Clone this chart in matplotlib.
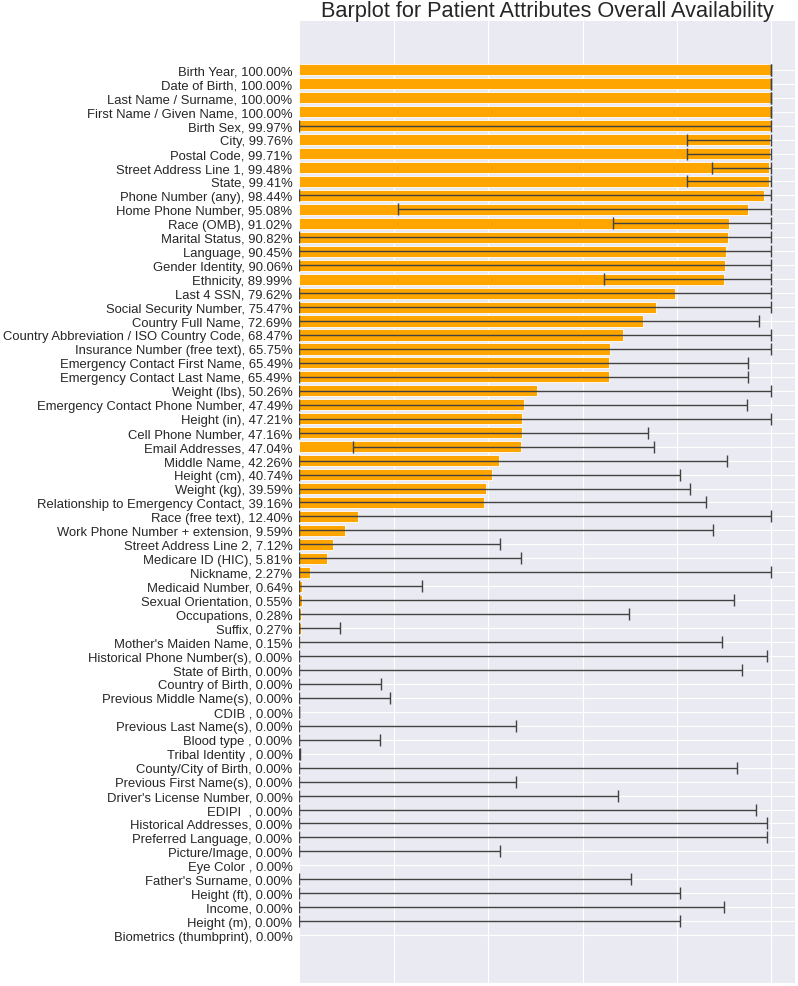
import matplotlib
matplotlib.use("Agg")
import matplotlib.pyplot as plt
import numpy as np
import seaborn as sns

# attribute names (some carry trailing spaces in the source data)
attributes = [
    "Birth Year", "Date of Birth", "Last Name / Surname", "First Name / Given Name",
    "Birth Sex", "City", "Postal Code", "Street Address Line 1", "State",
    "Phone Number (any)", "Home Phone Number", "Race (OMB)", "Marital Status",
    "Language", "Gender Identity", "Ethnicity", "Last 4 SSN",
    "Social Security Number", "Country Full Name",
    "Country Abbreviation / ISO Country Code", "Insurance Number (free text)",
    "Emergency Contact First Name", "Emergency Contact Last Name", "Weight (lbs)",
    "Emergency Contact Phone Number", "Height (in)", "Cell Phone Number",
    "Email Addresses", "Middle Name", "Height (cm)", "Weight (kg)",
    "Relationship to Emergency Contact", "Race (free text)",
    "Work Phone Number + extension", "Street Address Line 2", "Medicare ID (HIC)",
    "Nickname", "Medicaid Number", "Sexual Orientation", "Occupations", "Suffix",
    "Mother's Maiden Name", "Historical Phone Number(s)", "State of Birth",
    "Country of Birth", "Previous Middle Name(s)", "CDIB ", "Previous Last Name(s)",
    "Blood type ", "Tribal Identity ", "County/City of Birth",
    "Previous First Name(s)", "Driver's License Number", "EDIPI  ",
    "Historical Addresses", "Preferred Language", "Picture/Image", "Eye Color ",
    "Father's Surname", "Height (ft)", "Income", "Height (m)",
    "Biometrics (thumbprint)",
]

availability = [
    1.0, 1.0, 1.0, 1.0, 0.9997, 0.9976, 0.9971, 0.9948, 0.9941, 0.9844, 0.9508,
    0.9102, 0.9082, 0.9045, 0.9006, 0.8999, 0.7962, 0.7547, 0.7269, 0.6847,
    0.6575, 0.6549, 0.6549, 0.5026, 0.4749, 0.4721, 0.4716, 0.4704, 0.4226,
    0.4074, 0.3959, 0.3916, 0.1240, 0.0959, 0.0712, 0.0581, 0.0227, 0.0064,
    0.0055, 0.0028, 0.0027, 0.0015, 0, 0, 0, 0, 0, 0, 0, 0, 0, 0, 0, 0, 0, 0,
    0, 0, 0, 0, 0, 0, 0,
]

# confidence interval ends (nan = no bar drawn)
ci_low = [
    1.0, 1.0, 1.0, 1.0, 0.0, 0.822, 0.822, 0.874, 0.822, 0.0, 0.2095,
    0.665, 0.0, 0.0, 0.0, 0.646, 0.0, 0.0, 0.0, 0.0,
    0.0, 0.0, 0.0, 0.0, 0.0, 0.0, 0.0, 0.114, 0.0,
    0.0, 0.0, 0.0, 0.0, 0.0, 0.0, 0.0, 0.0, 0.0,
    0.0, 0.0, 0.0, 0.0, 0, 0, 0, 0, 0, 0, 0, 0, 0, 0, 0, 0, 0, 0,
    0, np.nan, 0, 0, 0, 0, np.nan,
]
ci_high = [
    1.0, 1.0, 1.0, 1.0, 1.0, 1.0, 1.0, 1.0, 1.0, 1.0, 1.0,
    1.0, 1.0, 1.0, 1.0, 1.0, 1.0, 1.0, 0.9746, 1.0,
    1.0, 0.951, 0.951, 1.0, 0.949, 1.0, 0.739, 0.752, 0.905,
    0.807, 0.828, 0.861, 1.0, 0.876, 0.425, 0.469, 1.0, 0.260,
    0.9216, 0.699, 0.0865, 0.896, 0.990, 0.937, 0.173, 0.1925, 0.0, 0.4596,
    0.171, 0.001, 0.926, 0.4596, 0.675, 0.968, 0.990, 0.990,
    0.4257, np.nan, 0.7026, 0.807, 0.900, 0.807, np.nan,
]

labels = ["{}, {:.2%}".format(a, v) for a, v in zip(attributes, availability)]

sns.set_style("darkgrid")
plt.rcParams["font.family"] = ["Liberation Sans", "DejaVu Sans"]

fig = plt.figure(figsize=(7.98, 9.87), dpi=100)
ax = fig.add_axes([0.3751, 0.00274, 0.6212, 0.9750])

vals = np.array(availability)
lo = np.array(ci_low)
hi = np.array(ci_high)
y = np.arange(len(vals))

ax.barh(y, vals, height=0.8, color="orange", edgecolor="white", linewidth=0.6, zorder=2)
ax.errorbar(vals, y, xerr=[vals - lo, hi - vals], fmt="none", ecolor="#424242",
            elinewidth=1.0, capsize=4.3, capthick=1.0, zorder=3)

ax.set_xlim(0, 1.05)
ax.set_ylim(len(vals) - 1 + 3.45, -3.5)
ax.set_xticks([0, 0.2, 0.4, 0.6, 0.8, 1.0])
ax.set_xticklabels([])
ax.set_yticks(y)
ax.set_yticklabels(labels, fontsize=9.4, color="#262626")
ax.tick_params(axis="y", length=0, pad=5)
ax.tick_params(axis="x", length=0)
for s in ax.spines.values():
    s.set_visible(False)

ax.set_title("Barplot for Patient Attributes Overall Availability", fontsize=15.7,
             color="#262626", pad=3.4)

fig.savefig("out.png", dpi=100)
